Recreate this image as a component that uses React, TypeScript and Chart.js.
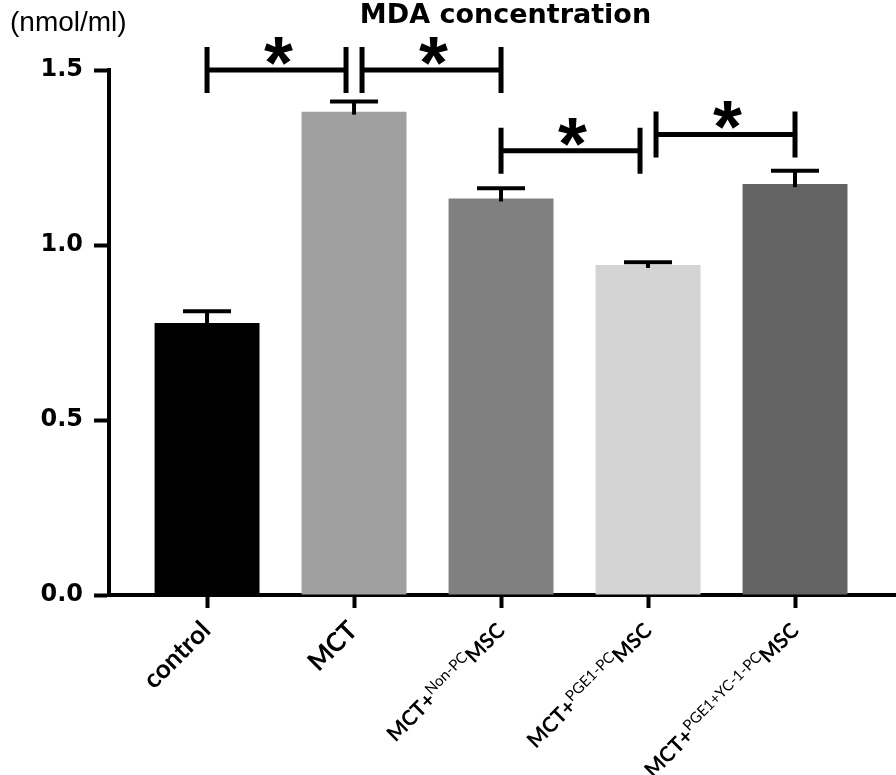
import React, { useEffect, useRef } from 'react';
import { Chart, registerables } from 'chart.js';

Chart.register(...registerables);

// ---- data ----
const categories = ['control', 'MCT', 'MCT+Non-PCMSC', 'MCT+PGE1-PCMSC', 'MCT+PGE1+YC-1-PCMSC'];
const labelPrefix = ['control', 'MCT', 'MCT+', 'MCT+', 'MCT+'];
const labelSup = ['', '', 'Non-PC', 'PGE1-PC', 'PGE1+YC-1-PC'];
const labelSuffix = ['', '', 'MSC', 'MSC', 'MSC'];
const meanValues = [0.777, 1.381, 1.133, 0.943, 1.174];
const semValues = [0.034, 0.029, 0.029, 0.008, 0.038];
const barColors = ['#000000', '#a0a0a0', '#808080', '#d4d4d4', '#636363'];
const yTicks = [0, 0.5, 1.0, 1.5];
const bracketFrom = [0, 1, 2, 3];
const bracketTo = [1, 2, 3, 4];
const bracketLevel = [1.5, 1.5, 1.269, 1.316];
const bracketMark = ['*', '*', '*', '*'];
const chartTitle = 'MDA concentration';
const unitLabel = '(nmol/ml)';

const overlay = {
  id: 'overlay',
  afterDraw(chart: any) {
    const ctx = chart.ctx as CanvasRenderingContext2D;
    const xs = chart.scales.x;
    const ys = chart.scales.y;
    const area = chart.chartArea;
    const meta = chart.getDatasetMeta(0);
    ctx.save();

    // error bars
    ctx.strokeStyle = '#000';
    ctx.lineWidth = 4;
    ctx.lineCap = 'butt';
    meta.data.forEach((bar: any, i: number) => {
      const x = bar.x;
      const top = bar.y;
      const capY = ys.getPixelForValue(meanValues[i] + semValues[i]);
      ctx.beginPath();
      ctx.moveTo(x, capY);
      ctx.lineTo(x, top + 3);
      ctx.stroke();
      ctx.beginPath();
      ctx.moveTo(x - 24, capY);
      ctx.lineTo(x + 24, capY);
      ctx.stroke();
    });

    // significance brackets
    const half = 23;
    const inset = 8;
    ctx.lineWidth = 5;
    bracketFrom.forEach((a, k) => {
      const b = bracketTo[k];
      const y = ys.getPixelForValue(bracketLevel[k]);
      let x1 = xs.getPixelForValue(a);
      let x2 = xs.getPixelForValue(b);
      bracketFrom.forEach((a2, j) => {
        if (j === k) return;
        const b2 = bracketTo[j];
        const y2 = ys.getPixelForValue(bracketLevel[j]);
        if (Math.abs(y2 - y) < 2 * half) {
          if (b2 === a) x1 += inset;
          if (a2 === b) x2 -= inset;
        }
      });
      ctx.beginPath();
      ctx.moveTo(x1, y);
      ctx.lineTo(x2, y);
      ctx.moveTo(x1, y - half);
      ctx.lineTo(x1, y + half);
      ctx.moveTo(x2, y - half);
      ctx.lineTo(x2, y + half);
      ctx.stroke();

      // star
      ctx.font = 'bold 100px "Liberation Sans"';
      let m = ctx.measureText(bracketMark[k]);
      const inkW = m.actualBoundingBoxLeft + m.actualBoundingBoxRight;
      const size = (100 * 29) / inkW;
      ctx.font = `bold ${size}px "Liberation Sans"`;
      m = ctx.measureText(bracketMark[k]);
      ctx.textAlign = 'left';
      ctx.textBaseline = 'alphabetic';
      ctx.fillStyle = '#000';
      const cx = (x1 + x2) / 2 + 2;
      const x0 = cx - (m.actualBoundingBoxRight - m.actualBoundingBoxLeft) / 2;
      const y0 = y - 5 - m.actualBoundingBoxDescent;
      ctx.fillText(bracketMark[k], x0, y0);
    });

    // title & unit
    ctx.fillStyle = '#000';
    ctx.textBaseline = 'alphabetic';
    ctx.textAlign = 'center';
    ctx.font = 'bold 27px "DejaVu Sans"';
    ctx.fillText(chartTitle, (area.left + area.right) / 2 + 3, 23);
    ctx.textAlign = 'left';
    ctx.font = '28px "Liberation Sans"';
    ctx.fillText(unitLabel, 10, 31);

    // x labels (rotated, with superscripts)
    categories.forEach((_, i) => {
      const px = xs.getPixelForValue(i) + 5;
      const py = area.bottom + 37;
      const simple = !labelSup[i];
      const mainFont = simple ? 'bold 26px Lato' : 'bold 21px Lato';
      const supFont = '15px Lato';
      const pieces = [
        { t: labelPrefix[i], f: mainFont, dy: 0 },
        { t: labelSup[i], f: supFont, dy: -8 },
        { t: labelSuffix[i], f: mainFont, dy: 0 },
      ].filter((p) => p.t);
      let total = 0;
      pieces.forEach((p) => {
        ctx.font = p.f;
        total += ctx.measureText(p.t).width;
      });
      ctx.save();
      ctx.translate(px, py);
      ctx.rotate(-Math.PI / 4);
      ctx.textAlign = 'left';
      let x = -total;
      pieces.forEach((p) => {
        ctx.font = p.f;
        ctx.fillText(p.t, x, p.dy);
        x += ctx.measureText(p.t).width;
      });
      ctx.restore();
    });

    ctx.restore();
  },
};

export default function App() {
  const ref = useRef<HTMLCanvasElement>(null);
  useEffect(() => {
    document.body.style.margin = '0';
    const canvas = ref.current!;
    const chart = new Chart(canvas, {
      type: 'bar',
      data: {
        datasets: [
          {
            data: meanValues.map((v, i) => ({ x: i, y: v })),
            backgroundColor: barColors,
            borderWidth: 0,
            barPercentage: 0.714,
            categoryPercentage: 1,
          },
        ],
      },
      options: {
        animation: false,
        responsive: false,
        events: [],
        layout: { padding: { left: 0, right: 0, top: 70, bottom: 0 } },
        plugins: { legend: { display: false }, tooltip: { enabled: false }, title: { display: false } },
        scales: {
          x: {
            type: 'linear',
            offset: false,
            min: -0.667,
            max: 4.687,
            afterBuildTicks: (s: any) => {
              s.ticks = categories.map((_, i) => ({ value: i }));
            },
            afterFit: (s: any) => {
              s.height = 180;
            },
            ticks: { autoSkip: false, callback: () => '', maxRotation: 0 },
            grid: {
              display: true,
              offset: false,
              drawOnChartArea: false,
              drawTicks: true,
              tickLength: 13,
              tickWidth: 4,
              tickColor: '#000',
            },
            border: { display: true, width: 4, color: '#000' },
          },
          y: {
            type: 'linear',
            min: 0,
            max: 1.5,
            afterBuildTicks: (s: any) => {
              s.ticks = yTicks.map((v) => ({ value: v }));
            },
            afterFit: (s: any) => {
              s.width = 109;
            },
            ticks: {
              color: '#000',
              padding: 11,
              font: { family: 'DejaVu Sans', size: 24, weight: 'bold' },
              callback: (v: any) => Number(v).toFixed(1),
            },
            grid: {
              display: true,
              drawOnChartArea: false,
              drawTicks: true,
              tickLength: 15,
              tickWidth: 4,
              tickColor: '#000',
            },
            border: { display: true, width: 4, color: '#000' },
          },
        },
      },
      plugins: [overlay],
    });
    return () => chart.destroy();
  }, []);
  return (
    <div style={{ width: 896, height: 775, overflow: 'hidden' }}>
      <canvas ref={ref} width={896} height={775} style={{ display: 'block' }} />
    </div>
  );
}
